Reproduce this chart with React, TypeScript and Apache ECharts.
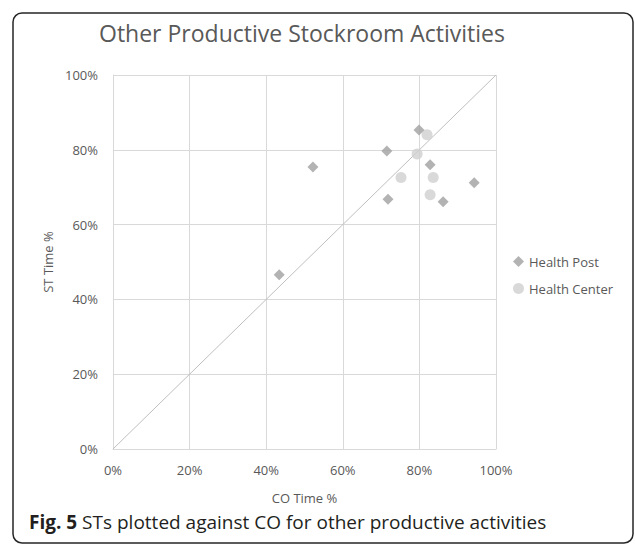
import React, { useEffect, useRef } from "react";
import * as echarts from "echarts";

const healthPost: [number, number][] = [
  [43.4, 46.6],
  [52.2, 75.4],
  [71.5, 79.7],
  [71.8, 66.8],
  [79.9, 85.3],
  [82.8, 76.0],
  [86.2, 66.1],
  [94.3, 71.2],
];
const healthCenter: [number, number][] = [
  [82.0, 84.0],
  [79.4, 78.9],
  [75.2, 72.6],
  [83.6, 72.6],
  [82.8, 68.0],
];
const diagonal: [number, number][] = [
  [0, 0],
  [100, 100],
];
const title = "Other Productive Stockroom Activities";
const xName = "CO Time %";
const yName = "ST Time %";
const seriesNames = ["Health Post", "Health Center"];

const FONT = "'Open Sans', sans-serif";

export default function App() {
  const ref = useRef<HTMLDivElement>(null);
  useEffect(() => {
    if (!ref.current) return;
    const chart = echarts.init(ref.current, undefined, { renderer: "svg" });
    chart.setOption({
      animation: false,
      backgroundColor: "#ffffff",
      textStyle: { fontFamily: FONT },
      title: {
        text: title,
        left: 297,
        textAlign: "center",
        top: 16,
        textStyle: { fontFamily: FONT, fontSize: 23, fontWeight: "normal", color: "#595959" },
      },
      legend: {
        orient: "vertical",
        left: 508,
        top: 250,
        itemGap: 14,
        itemWidth: 11,
        itemHeight: 11,
        textStyle: { fontFamily: FONT, fontSize: 13, color: "#595959" },
        data: [
          { name: seriesNames[0], icon: "diamond" },
          { name: seriesNames[1], icon: "circle" },
        ],
      },
      grid: { left: 113, right: 139, top: 75, bottom: 95 },
      xAxis: {
        type: "value",
        min: 0,
        max: 100,
        interval: 20,
        name: xName,
        nameLocation: "middle",
        nameGap: 42,
        nameTextStyle: { fontFamily: FONT, fontSize: 13, color: "#595959" },
        axisLine: { show: true, lineStyle: { color: "#d9d9d9" } },
        axisTick: { show: false },
        axisLabel: { formatter: "{value}%", fontFamily: FONT, fontSize: 13, color: "#595959", margin: 14 },
        splitLine: { show: true, lineStyle: { color: "#d9d9d9" } },
      },
      yAxis: {
        type: "value",
        min: 0,
        max: 100,
        interval: 20,
        name: yName,
        nameLocation: "middle",
        nameGap: 58,
        nameRotate: 90,
        nameTextStyle: { fontFamily: FONT, fontSize: 13, color: "#595959" },
        axisLine: { show: true, lineStyle: { color: "#d9d9d9" } },
        axisTick: { show: false },
        axisLabel: { formatter: "{value}%", fontFamily: FONT, fontSize: 13, color: "#595959", margin: 15 },
        splitLine: { show: true, lineStyle: { color: "#d9d9d9" } },
      },
      series: [
        {
          name: "diag",
          type: "line",
          data: diagonal,
          symbol: "none",
          silent: true,
          lineStyle: { color: "#bfbfbf", width: 1 },
          z: 1,
        },
        {
          name: seriesNames[0],
          type: "scatter",
          data: healthPost,
          symbol: "diamond",
          symbolSize: 11,
          itemStyle: { color: "#a0a0a0" },
          z: 3,
        },
        {
          name: seriesNames[1],
          type: "scatter",
          data: healthCenter,
          symbol: "circle",
          symbolSize: 11,
          itemStyle: { color: "#d0d0d0" },
          z: 2,
        },
      ],
      graphic: [
        {
          type: "rect",
          shape: { x: 13, y: 13, width: 620, height: 530, r: 9 },
          style: { fill: "none", stroke: "#262626", lineWidth: 1.5 },
          silent: true,
        },
        {
          type: "text",
          left: 29,
          top: 512,
          style: {
            text: "{b|Fig. 5} STs plotted against CO for other productive activities",
            rich: {
              b: { fontFamily: FONT, fontSize: 19, fontWeight: "bold", fill: "#231f20" },
            },
            fontFamily: FONT,
            fontSize: 19,
            fill: "#231f20",
          },
        },
      ],
    });
    return () => chart.dispose();
  }, []);
  return (
    <div style={{ position: "fixed", left: 0, top: 0, width: 635, height: 544 }}>
      <div ref={ref} style={{ width: 635, height: 544 }} />
    </div>
  );
}
